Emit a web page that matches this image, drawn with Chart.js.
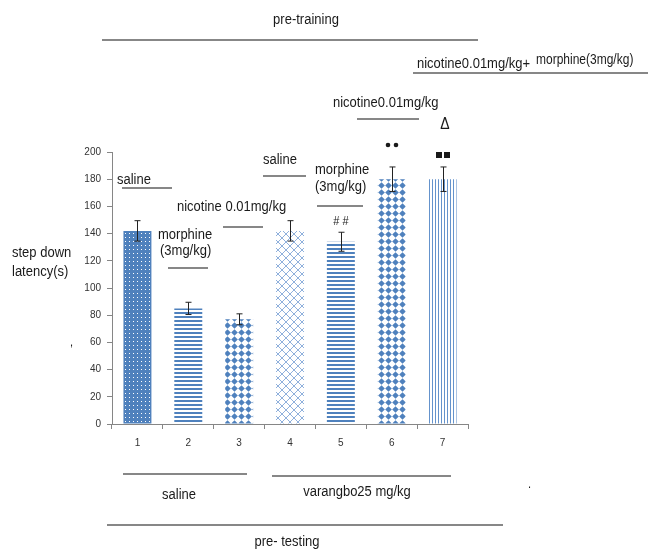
<!DOCTYPE html>
<html>
<head>
<meta charset="utf-8">
<script src="https://cdn.jsdelivr.net/npm/chart.js@4.4.1/dist/chart.umd.min.js"></script>
<style>
  body { margin: 0; background: #fff; }
  #wrap { width: 649px; height: 552px; position: relative; }
</style>
</head>
<body>
<div id="wrap"><canvas id="chart"></canvas></div>
<script>
const categories = ["1", "2", "3", "4", "5", "6", "7"];
const latency = [142, 85, 77, 142, 134, 180, 180];
const errors = [7.5, 4.5, 4, 7.5, 7, 9, 9];
const yTicks = [0, 20, 40, 60, 80, 100, 120, 140, 160, 180, 200];

const BLUE = "#4f81bd";
const FONT = "'Liberation Sans', Arial, sans-serif";

// build the fill patterns used by the bars
function makePattern(w, h, draw) {
  const c = document.createElement("canvas");
  c.width = w;
  c.height = h;
  const g = c.getContext("2d");
  g.fillStyle = "#fff";
  g.fillRect(0, 0, w, h);
  draw(g);
  return document.getElementById("chart").getContext("2d").createPattern(c, "repeat");
}

const dots = makePattern(4, 4, (g) => {
  g.fillStyle = BLUE;
  g.fillRect(0, 0, 4, 4);
  g.fillStyle = "#fff";
  g.fillRect(1, 1, 1, 1);
});

const hStripes = makePattern(1, 4, (g) => {
  g.fillStyle = BLUE;
  g.fillRect(0, 0, 1, 2);
});

const diamonds = makePattern(7, 7, (g) => {
  g.fillStyle = BLUE;
  g.beginPath();
  g.moveTo(3.5, 0.2);
  g.lineTo(6.8, 3.5);
  g.lineTo(3.5, 6.8);
  g.lineTo(0.2, 3.5);
  g.closePath();
  g.fill();
});

const hatch = makePattern(8, 8, (g) => {
  g.strokeStyle = "#8fb0dc";
  g.lineWidth = 1;
  g.beginPath();
  g.moveTo(0, 8); g.lineTo(8, 0);
  g.moveTo(-4, 4); g.lineTo(0, 0);
  g.moveTo(0, 4); g.lineTo(4, 8);
  g.moveTo(4, 0); g.lineTo(8, 4);
  g.stroke();
});

const vStripes = makePattern(3, 1, (g) => {
  g.fillStyle = "#6593cc";
  g.fillRect(0, 0, 1, 1);
});

const fills = [dots, hStripes, diamonds, hatch, hStripes, diamonds, vStripes];

function txt(ctx, s, x, y, size, align) {
  ctx.save();
  ctx.font = size + "px " + FONT;
  ctx.fillStyle = "#1a1a1a";
  ctx.textAlign = align || "left";
  ctx.textBaseline = "middle";
  ctx.translate(x, y);
  ctx.scale(1, 1.15);
  ctx.fillText(s, 0, 0);
  ctx.restore();
}

function hline(ctx, x1, x2, y) {
  ctx.save();
  ctx.strokeStyle = "#111";
  ctx.lineWidth = 1.2;
  ctx.beginPath();
  ctx.moveTo(x1, y);
  ctx.lineTo(x2, y);
  ctx.stroke();
  ctx.restore();
}

const errorBars = {
  id: "errorBars",
  afterDatasetsDraw(chart) {
    const ctx = chart.ctx;
    const xs = chart.scales.x;
    const ys = chart.scales.y;
    ctx.save();
    ctx.strokeStyle = "#222";
    ctx.lineWidth = 1;
    latency.forEach((v, i) => {
      const x = Math.round(xs.getPixelForValue(i)) + 0.5;
      const top = ys.getPixelForValue(v + errors[i]);
      const bot = ys.getPixelForValue(v - errors[i]);
      ctx.beginPath();
      ctx.moveTo(x, top); ctx.lineTo(x, bot);
      ctx.moveTo(x - 3, top); ctx.lineTo(x + 3, top);
      ctx.moveTo(x - 3, bot); ctx.lineTo(x + 3, bot);
      ctx.stroke();
    });
    ctx.restore();
  }
};

const notes = {
  id: "notes",
  afterDraw(chart) {
    const ctx = chart.ctx;
    // top group
    txt(ctx, "pre-training", 306, 20, 13, "center");
    hline(ctx, 102, 478, 40);
    txt(ctx, "nicotine0.01mg/kg+", 417, 64, 13);
    txt(ctx, "morphine(3mg/kg)", 536, 60, 12);
    hline(ctx, 413, 648, 73);
    txt(ctx, "nicotine0.01mg/kg", 333, 103, 13);
    hline(ctx, 357, 419, 119);
    txt(ctx, "\u0394", 445, 125, 14, "center");
    // significance marks
    ctx.save();
    ctx.fillStyle = "#1a1a1a";
    [388, 396].forEach((x) => {
      ctx.beginPath();
      ctx.arc(x, 145, 2.3, 0, Math.PI * 2);
      ctx.fill();
    });
    ctx.fillRect(436, 152, 6, 6);
    ctx.fillRect(444, 152, 6, 6);
    ctx.restore();

    // inside plot
    txt(ctx, "saline", 117, 180, 13);
    hline(ctx, 122, 172, 188);
    txt(ctx, "saline", 263, 160, 13);
    hline(ctx, 263, 306, 176);
    txt(ctx, "nicotine 0.01mg/kg", 177, 207, 13);
    hline(ctx, 223, 263, 227);
    txt(ctx, "morphine", 158, 235, 13);
    txt(ctx, "(3mg/kg)", 160, 251, 13);
    hline(ctx, 168, 208, 268);
    txt(ctx, "morphine", 315, 170, 13);
    txt(ctx, "(3mg/kg)", 315, 187, 13);
    hline(ctx, 317, 363, 206);
    txt(ctx, "# #", 341, 222, 11, "center");

    // y axis title
    txt(ctx, "step down", 12, 253, 13);
    txt(ctx, "latency(s)", 12, 272, 13);
    txt(ctx, ",", 70, 343, 11);

    // bottom groups
    hline(ctx, 123, 247, 474);
    txt(ctx, "saline", 179, 495, 13, "center");
    hline(ctx, 272, 451, 476);
    txt(ctx, "varangbo25 mg/kg", 357, 492, 13, "center");
    txt(ctx, ".", 528, 485, 11);
    hline(ctx, 107, 503, 525);
    txt(ctx, "pre- testing", 287, 542, 13, "center");
  }
};

new Chart(document.getElementById("chart"), {
  type: "bar",
  data: {
    labels: categories,
    datasets: [{
      data: latency,
      backgroundColor: fills,
      borderWidth: 0,
      categoryPercentage: 1,
      barPercentage: 0.55,
    }],
  },
  options: {
    responsive: true,
    maintainAspectRatio: false,
    animation: false,
    layout: { padding: { left: 60, right: 181, top: 152, bottom: 98 } },
    plugins: {
      legend: { display: false },
      tooltip: { enabled: false },
    },
    scales: {
      x: {
        grid: { drawOnChartArea: false, tickLength: 5, color: "#868686", offset: true },
        border: { color: "#868686" },
        ticks: { font: { family: FONT, size: 10 }, color: "#333", padding: 8 },
        afterFit: (s) => { s.height = 30; },
      },
      y: {
        min: 0,
        max: 200,
        afterBuildTicks: (s) => { s.ticks = yTicks.map((v) => ({ value: v })); },
        grid: { drawOnChartArea: false, tickLength: 5, color: "#868686" },
        border: { color: "#868686" },
        ticks: { font: { family: FONT, size: 10 }, color: "#333", padding: 6 },
        afterFit: (s) => { s.width = 52; },
      },
    },
  },
  plugins: [errorBars, notes],
});
</script>
</body>
</html>
